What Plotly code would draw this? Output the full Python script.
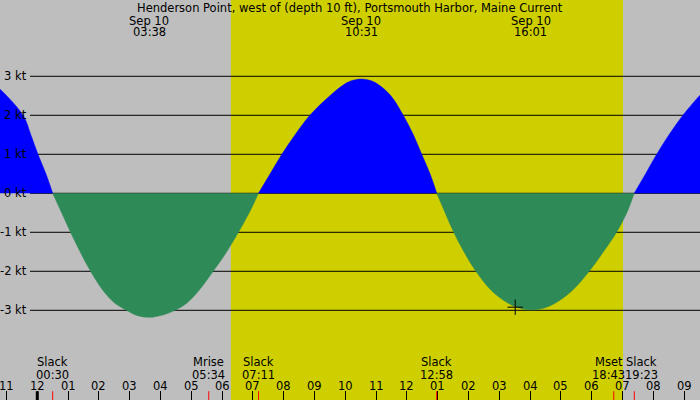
import plotly.graph_objects as go

# Titre et textes
titre = "Henderson Point, west of (depth 10 ft), Portsmouth Harbor, Maine Current"
date_pic = "Sep 10"

# Courbe du courant (heures depuis minuit, noeuds)
heures = [-1.28, -1.21, -0.46, -0.21, 0.02, 0.28, 0.50,
          0.79, 1.08, 1.39, 1.73, 2.14, 2.52, 2.90, 3.19, 3.63, 4.08, 4.47, 4.85, 5.24, 5.71, 6.15, 6.53, 6.88, 7.18,
          7.56, 7.94, 8.37, 8.85, 9.50, 9.98, 10.22, 10.53, 10.82, 11.05, 11.48, 11.88, 12.21, 12.48, 12.75, 12.97,
          13.24, 13.52, 13.85, 14.24, 14.75, 15.29, 15.64, 16.05, 16.46, 16.81, 17.36, 17.92, 18.38, 18.81, 19.14, 19.38,
          19.75, 20.11, 20.51, 20.96, 21.52, 21.58]
noeuds = [2.71, 2.67, 2.0, 1.5, 1.0, 0.5, 0.0,
          -0.5, -1.0, -1.5, -2.0, -2.5, -2.82, -3.0, -3.12, -3.18, -3.12, -3.0, -2.82, -2.5, -2.0, -1.5, -1.0, -0.5, 0.0,
          0.5, 1.0, 1.5, 2.0, 2.5, 2.8, 2.89, 2.93, 2.89, 2.8, 2.5, 2.0, 1.5, 1.0, 0.5, 0.0,
          -0.5, -1.0, -1.5, -2.0, -2.5, -2.82, -2.94, -2.99, -2.94, -2.82, -2.5, -2.0, -1.5, -1.0, -0.5, 0.0,
          0.5, 1.0, 1.5, 2.0, 2.52, 2.56]

# Pics (haut du graphique)
heures_pic = ["03:38", "10:31", "16:01"]

# Evenements (bas du graphique)
noms_evt = ["Slack", "Mrise", "Slack", "Slack", "Mset", "Slack"]
heures_evt = ["00:30", "05:34", "07:11", "12:58", "18:43", "19:23"]

# Jour
lever = "06:17"
coucher = "19:01"

# Repere "maintenant"
maintenant = "15:31"
valeur_maintenant = -2.92

# Graduations
graduations_h = list(range(-1, 22))
etiquettes_h = ["11", "12", "01", "02", "03", "04", "05", "06", "07", "08", "09", "10",
                "11", "12", "01", "02", "03", "04", "05", "06", "07", "08", "09"]
graduations_kt = [3, 2, 1, 0, -1, -2, -3]
etiquettes_kt = ["3 kt", "2 kt", "1 kt", "0 kt", "-1 kt", "-2 kt", "-3 kt"]


def hh(s):
    h, m = s.split(':')
    return int(h) + int(m) / 60


police = dict(family="DejaVu Sans", size=11.5, color="black")
fig = go.Figure()

# Decoupage de la courbe en lobes positifs / negatifs
lobes = []
cur = [(heures[0], noeuds[0])]
for t, v in zip(heures[1:], noeuds[1:]):
    cur.append((t, v))
    if v == 0:
        lobes.append(cur)
        cur = [(t, v)]
lobes.append(cur)

for lobe in lobes:
    xs = [p[0] for p in lobe]
    ys = [p[1] for p in lobe]
    couleur = "#0000FF" if sum(ys) > 0 else "#2E8B57"
    fig.add_trace(go.Scatter(x=xs, y=ys, mode='lines', fill='tozeroy',
                             fillcolor=couleur, line=dict(color=couleur, width=0.5, shape='spline', smoothing=1),
                             hoverinfo='skip', showlegend=False))

# Croix "maintenant"
fig.add_trace(go.Scatter(x=[hh(maintenant)], y=[valeur_maintenant], mode='markers',
                         marker=dict(symbol='cross-thin', size=11, line=dict(color='black', width=1)),
                         hoverinfo='skip', showlegend=False))

formes = []
# Zone de jour
formes.append(dict(type='rect', xref='x', yref='paper', x0=hh(lever), x1=hh(coucher), y0=0, y1=1,
                   fillcolor="#CFCF00", line=dict(width=0), layer='below'))
# Lignes horizontales
for k in graduations_kt:
    formes.append(dict(type='line', xref='paper', yref='y', x0=30 / 700, x1=1, y0=k, y1=k,
                       line=dict(color='black', width=1), layer='below'))
# Minuit (trait epais)
formes.append(dict(type='line', xref='x', yref='paper', x0=0, x1=0, y0=0, y1=0.022,
                   line=dict(color='black', width=3)))
# Evenements (traits rouges)
for t in heures_evt:
    formes.append(dict(type='line', xref='x', yref='paper', x0=hh(t), x1=hh(t), y0=0, y1=0.022,
                       line=dict(color='red', width=1)))

annotations = []
annotations.append(dict(text=titre, xref='paper', yref='paper', x=0.5, y=0.979,
                        showarrow=False, font=police, yanchor='middle'))
for t in heures_pic:
    annotations.append(dict(text=date_pic, xref='x', yref='paper', x=hh(t), y=0.9475,
                            showarrow=False, font=police, yanchor='middle'))
    annotations.append(dict(text=t, xref='x', yref='paper', x=hh(t), y=0.919,
                            showarrow=False, font=police, yanchor='middle'))
decalage = {"Mset": -5, "19:23": 7}
for n, t in zip(noms_evt, heures_evt):
    dx = decalage.get(n, decalage.get(t, 0))
    annotations.append(dict(text=n, xref='x', yref='paper', x=hh(t), y=0.095,
                            showarrow=False, font=police, yanchor='middle', xshift=dx))
    annotations.append(dict(text=t, xref='x', yref='paper', x=hh(t), y=0.0625,
                            showarrow=False, font=police, yanchor='middle', xshift=dx))
for h, e in zip(graduations_h, etiquettes_h):
    annotations.append(dict(text=e, xref='x', yref='paper', x=h, y=0.036,
                            showarrow=False, font=police, yanchor='middle'))
for k, e in zip(graduations_kt, etiquettes_kt):
    annotations.append(dict(text=e, xref='paper', yref='y', x=29 / 700, y=k,
                            showarrow=False, font=police, xanchor='right', yanchor='middle'))

fig.update_layout(
    width=700, height=400,
    margin=dict(l=0, r=0, t=0, b=0),
    paper_bgcolor="#BEBEBE", plot_bgcolor="#BEBEBE",
    shapes=formes, annotations=annotations,
    xaxis=dict(range=[-1.211, 21.516], showgrid=False, zeroline=False, showticklabels=False,
               ticks='inside', ticklen=9, tickcolor='black', tickwidth=1,
               tickvals=graduations_h, fixedrange=True),
    yaxis=dict(range=[-5.30, 4.956], showgrid=False, zeroline=False, showticklabels=False,
               fixedrange=True),
)

# Export (marge du body retiree pour que la figure occupe toute la fenetre)
fig.write_html("out.html", config={'displayModeBar': False},
               post_script="document.body.style.margin='0px';")
print("out.html généré avec succès !")
